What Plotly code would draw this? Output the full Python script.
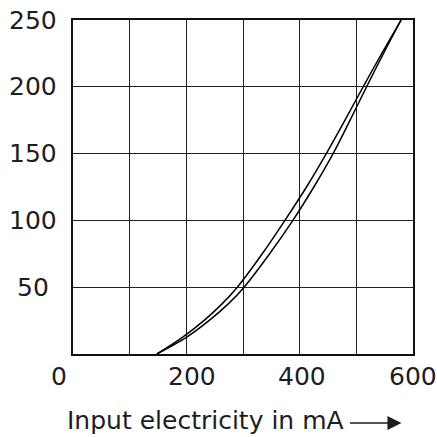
import plotly.graph_objects as go

# Two characteristic branches, output vs input electricity (mA)
output_levels = [0, 12.5, 25, 37.5, 50, 75, 100, 125, 150, 175, 200, 225, 250]
current_up = [148, 193, 231, 263, 290, 334, 374, 412, 447, 480, 512, 545, 579]
current_down = [148, 200, 240, 274, 302, 347, 388, 425, 459, 489, 518, 548, 579]

x_ticks = [0, 200, 400, 600]
y_ticks = [50, 100, 150, 200, 250]
x_title = "Input electricity in mA"

FONT = "DejaVu Sans"
TEXT = "#1f1d1e"

fig = go.Figure()
for xs in (current_up, current_down):
    fig.add_trace(go.Scatter(
        x=xs, y=output_levels, mode="lines",
        line=dict(color="black", width=1.5, shape="spline", smoothing=0.9),
        showlegend=False, hoverinfo="skip",
    ))

annotations = []
# x tick labels, nudged like the printed scale
x_shift = {0: -14, 200: 6, 400: 2, 600: 0}
for v in x_ticks:
    annotations.append(dict(
        x=v, y=0, xref="x", yref="y", text=str(v), showarrow=False,
        xanchor="center", yanchor="middle", xshift=x_shift[v], yshift=-22,
        font=dict(family=FONT, size=25, color=TEXT),
    ))
# y tick labels, centred in the left margin
for v in y_ticks:
    annotations.append(dict(
        x=0, y=v, xref="x", yref="y", text=str(v), showarrow=False,
        xanchor="center", yanchor="middle", xshift=-40,
        font=dict(family=FONT, size=25, color=TEXT),
    ))
# axis title with arrow
annotations.append(dict(
    x=0, y=0, xref="paper", yref="paper", text=x_title, showarrow=False,
    xanchor="left", yanchor="middle", xshift=-8, yshift=-66,
    font=dict(family=FONT, size=25, color=TEXT),
))
annotations.append(dict(
    x=0.966, y=0, xref="paper", yref="paper", text="",
    showarrow=True, arrowhead=2, arrowsize=2.0, arrowwidth=1.4,
    arrowcolor=TEXT, ax=-53, ay=0, yshift=-69,
))

fig.update_layout(
    width=437, height=437,
    margin=dict(l=73, r=24, t=20, b=83),
    paper_bgcolor="white", plot_bgcolor="white",
    annotations=annotations,
    xaxis=dict(
        range=[0, 600], dtick=100, showticklabels=False, ticks="",
        showgrid=True, gridcolor="#222", gridwidth=1, zeroline=False,
        showline=True, linecolor="#111", linewidth=2, mirror=True,
    ),
    yaxis=dict(
        range=[0, 250], dtick=50, showticklabels=False, ticks="",
        showgrid=True, gridcolor="#222", gridwidth=1, zeroline=False,
        showline=True, linecolor="#111", linewidth=1.5, mirror=True,
    ),
)

fig.write_html("out.html")
